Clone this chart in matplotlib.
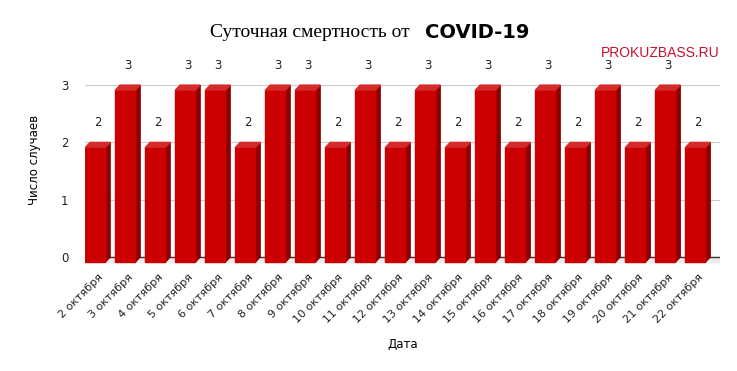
import numpy as np
import matplotlib.pyplot as plt
from matplotlib.patches import Polygon

# daily deaths, october
dates = ["2 октября", "3 октября", "4 октября", "5 октября", "6 октября", "7 октября",
         "8 октября", "9 октября", "10 октября", "11 октября", "12 октября", "13 октября",
         "14 октября", "15 октября", "16 октября", "17 октября", "18 октября", "19 октября",
         "20 октября", "21 октября", "22 октября"]
deaths = [2, 3, 2, 3, 3, 2, 3, 3, 2, 3, 2, 3, 2, 3, 2, 3, 2, 3, 2, 3, 2]

ppu = 57.3  # pixels per y unit
y0 = 257
ybot, ytop = -0.12, 3.5
fig = plt.figure(figsize=(7.37, 3.71), dpi=100)
ax = fig.add_axes([85 / 737, 1 - (y0 - ybot * ppu) / 371, 635 / 737, (ytop - ybot) * ppu / 371])

x = np.arange(len(deaths))
w = 0.667
dx, dy = 0.17, 0.095  # fake 3d depth in data units
xmin, xmax = -w / 2, 20.83

# floor
ax.add_patch(Polygon([(xmin - dx, -dy), (xmax, -dy), (xmax, 0), (xmin, 0)],
                     closed=True, color="#ececec", zorder=1))

for xi, h in zip(x, deaths):
    l, r = xi - w / 2, xi + w / 2
    ax.add_patch(Polygon([(r, -dy), (r + dx, 0), (r + dx, h), (r, h - dy)],
                         closed=True, color="#8e0000", zorder=3))
    ax.add_patch(Polygon([(l, h - dy), (r, h - dy), (r + dx, h), (l + dx, h)],
                         closed=True, color="#d42a2a", zorder=3))
    ax.add_patch(Polygon([(l, -dy), (r, -dy), (r, h - dy), (l, h - dy)],
                         closed=True, color="#cc0000", zorder=3))
    ax.text(xi + dx / 2, h + 0.34, str(h), ha="center", va="center", fontsize=8.5, color="#222222")

ax.set_xlim(xmin, xmax)
ax.set_ylim(ybot, ytop)
ax.set_yticks([0, 1, 2, 3])
ax.grid(axis="y", color="#cccccc", linewidth=0.8, zorder=0)
ax.axhline(0, color="#333333", linewidth=1, zorder=2)
for s in ax.spines.values():
    s.set_visible(False)
ax.tick_params(length=0, labelsize=8.5, colors="#222222")
ax.tick_params(axis="y", pad=12)
ax.tick_params(axis="x", pad=6)
ax.set_xticks(x + dx / 2)
ax.set_xticklabels(dates, rotation=45, ha="right", rotation_mode="anchor", fontsize=8)

ax.set_xlabel("Дата", fontsize=8.5, labelpad=9)
ax.set_ylabel("Число случаев", fontsize=8.5, labelpad=14)

fig.text(410 / 737, 0.912, "Суточная смертность от", family="Liberation Serif", fontsize=14,
         ha="right", va="center")
fig.text(425 / 737, 0.912, "COVID-19", family="DejaVu Sans", fontweight="bold", fontsize=14,
         ha="left", va="center")
fig.text(0.977, 0.858, "PROKUZBASS.RU", color="#c8102e", fontsize=10, ha="right", va="center",
         family="Liberation Sans")

fig.savefig("out.png", dpi=100)
